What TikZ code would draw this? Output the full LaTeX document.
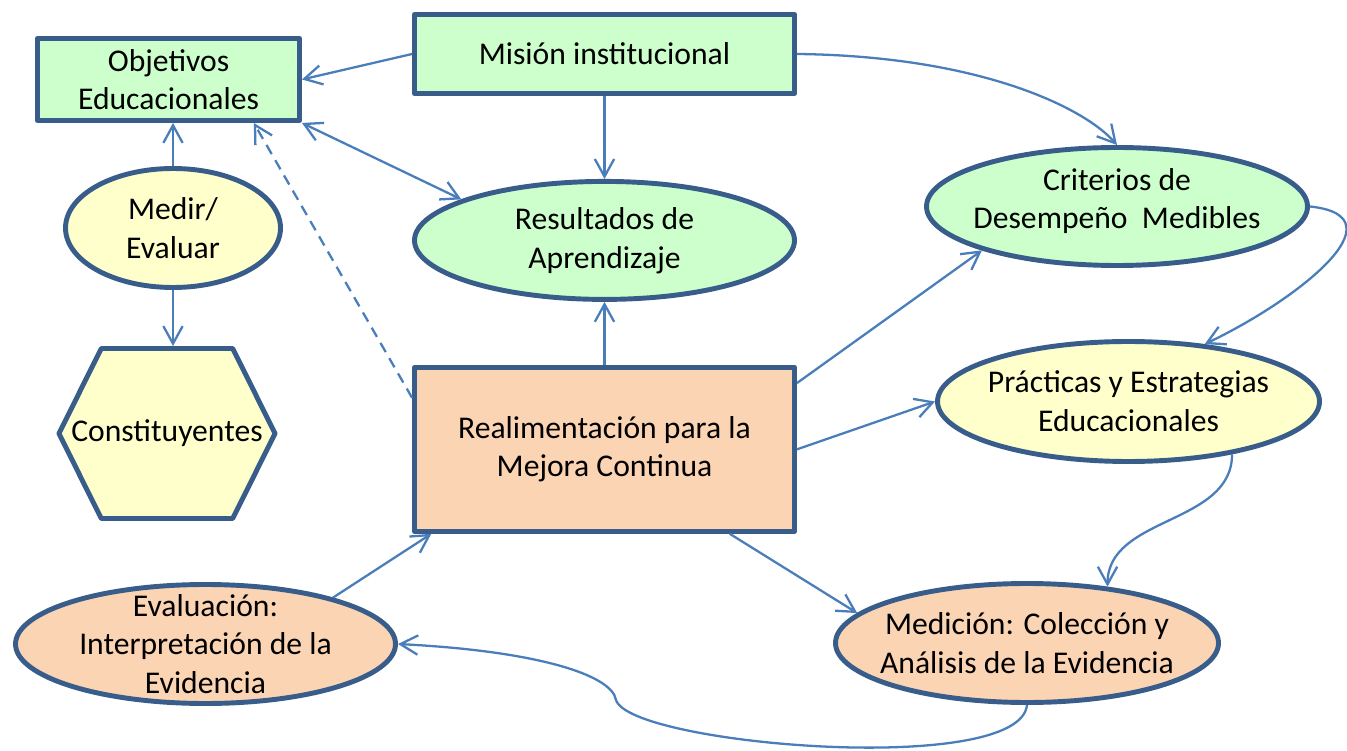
\documentclass[tikz,border=0pt]{standalone}
\usepackage{fontspec}
\setmainfont{Carlito}
\usetikzlibrary{shapes.geometric, shapes.symbols, arrows.meta, positioning}
\definecolor{greenfill}{HTML}{CCFFCC}
\definecolor{yellowfill}{HTML}{FFFFCC}
\definecolor{peachfill}{HTML}{FBD4B4}
\definecolor{bordercolor}{HTML}{385D8A}
\definecolor{linkcolor}{HTML}{4A7EBB}

\begin{document}
\begin{tikzpicture}[
    >={Straight Barb[length=10pt, width=11pt]},
    rectbox/.style={rectangle, draw=bordercolor, line width=2.8pt, line join=round,
                    align=center, inner sep=0pt, font=\fontsize{18}{22}\selectfont},
    oval/.style={ellipse, draw=bordercolor, line width=2.8pt, align=center,
                 inner sep=-8pt, font=\fontsize{18}{22}\selectfont},
    hexbox/.style={signal, signal to=west and east, signal pointer angle=127,
                   draw=bordercolor, line width=2.8pt, line join=round,
                   inner xsep=-0.6cm, inner ysep=0pt, font=\fontsize{18}{22}\selectfont},
    link/.style={->, draw=linkcolor, line width=1.3pt},
]
\useasboundingbox (0,0) rectangle (26.94,-15.02);

% Top row
\node[rectbox, fill=greenfill, minimum width=5.24cm, minimum height=1.64cm] (objetivos)
    at (3.37,-1.59) {Objetivos\\Educacionales};
\node[rectbox, fill=greenfill, minimum width=7.6cm, minimum height=1.58cm] (mision)
    at (12.09,-1.08) {Misión institucional};

% Central column
\node[oval, fill=greenfill, minimum width=7.6cm, minimum height=2.36cm, below=1.66cm of mision] (resultados)
    {Resultados de\\Aprendizaje};
\node[rectbox, fill=peachfill, minimum width=7.6cm, minimum height=3.28cm, below=1.26cm of resultados] (realim)
    {Realimentación para la\\Mejora Continua};

% Left column
\node[oval, fill=yellowfill, minimum width=4.3cm, minimum height=2.38cm] (medir)
    at (3.46,-4.56) {Medir/\\Evaluar};
\node[hexbox, fill=yellowfill, minimum width=4.22cm, minimum height=3.4cm] (constituyentes)
    at (3.34,-8.67) {Constituyentes};
\node[oval, fill=peachfill, minimum width=7.6cm, minimum height=2.38cm] (evaluacion)
    at (4.11,-12.88) {Evaluación:\\Interpretación de la\\Evidencia};

% Right column
\node[oval, fill=greenfill, minimum width=7.62cm, minimum height=2.36cm] (criterios)
    at (22.34,-4.13) {Criterios de\\Desempeño~~Medibles\\[-13pt]};
\node[oval, fill=yellowfill, minimum width=7.64cm, minimum height=2.4cm] (practicas)
    at (22.57,-8.03) {Prácticas y Estrategias\\Educacionales};
\node[oval, fill=peachfill, minimum width=7.66cm, minimum height=2.38cm] (medicion)
    at (20.54,-12.86) {Medición: Colección y\\Análisis de la Evidencia};

\coordinate (dip) at (12.32,-14.0);

% Links from the mission
\draw[link] (mision.west) -- (objetivos.east);
\draw[link] (mision.south) -- (resultados.north);
\draw[link] (mision.east) .. controls +(3.66,-0.04) and +(-0.64,0.74) .. (criterios.north);

% Left side
\draw[link, <->] (objetivos.south east) -- (resultados.164);
\draw[link] (medir.north) -- (medir.north |- objetivos.south);
\draw[link] (medir.south) -- (medir.south |- constituyentes.north);
\draw[link, dash pattern=on 6pt off 4pt] (realim.165) -- (objetivos.-27);

% Links from the feedback box
\draw[link] (realim.north) -- (resultados.south);
\draw[link] (realim.19) -- (criterios.198);
\draw[link] (realim.east) -- (practicas.west);
\draw[link] (realim.-34) -- (medicion.170);
\draw[link] (evaluacion.20) -- (realim.206);

% Cycle
\draw[link] (criterios.east) .. controls +(1.9,-0.2) and +(1.8,0.85) .. (practicas.37);
\draw[link] (practicas.-27) to[out=-90, in=90] (medicion.35);
\draw[link] (medicion.south) .. controls +(-0.14,-1.45) and +(0.28,-0.9) .. (dip)
    .. controls +(-0.08,0.5) and +(2.79,-0.14) .. (evaluacion.east);

\end{tikzpicture}
\end{document}
